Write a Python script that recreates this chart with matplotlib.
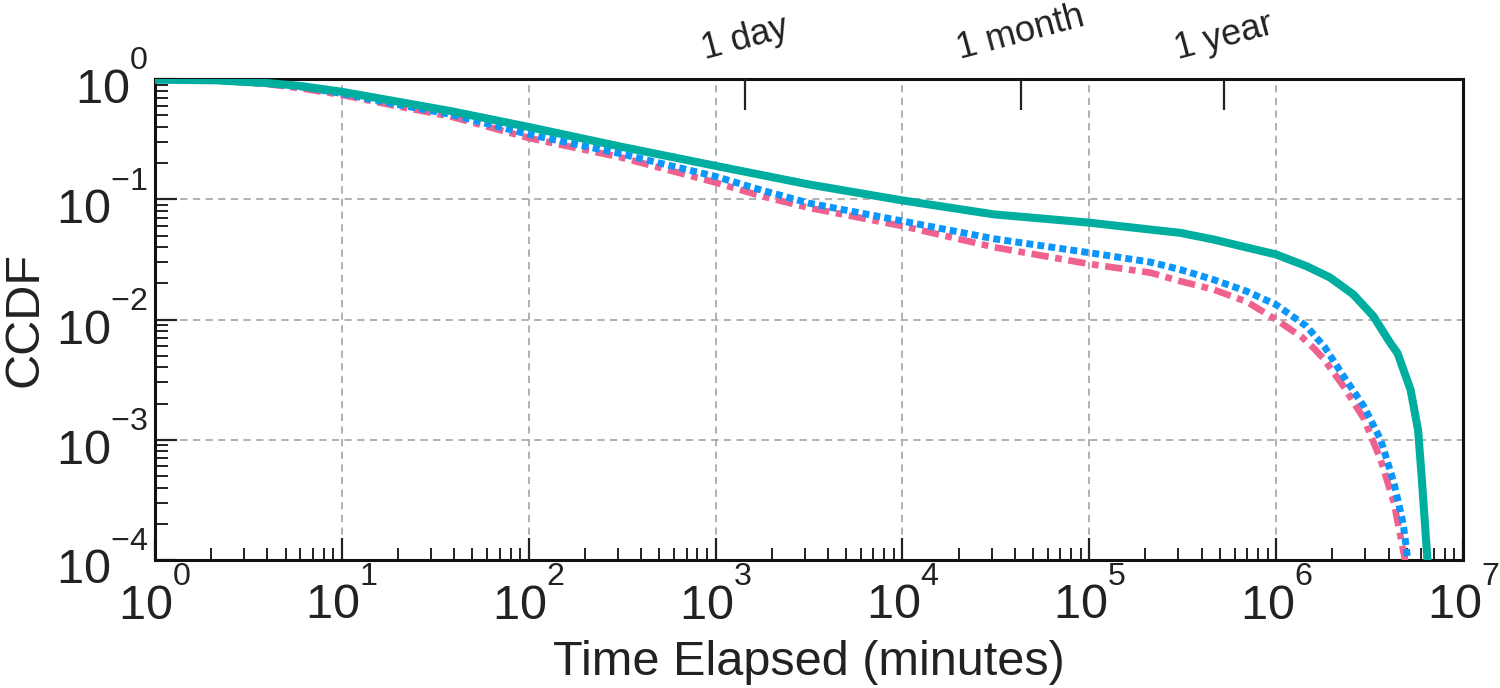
import matplotlib
matplotlib.use("Agg")
import matplotlib.pyplot as plt
from matplotlib.ticker import LogLocator, NullFormatter, FixedLocator

try:
    import matplotlib._mathtext as _mt
    _mt.FontConstantsBase.sup1 = 1.3
    _mt.SHRINK_FACTOR = 0.66
except Exception:
    pass

plt.rcParams['font.family'] = ['Liberation Sans', 'DejaVu Sans']
plt.rcParams['mathtext.fontset'] = 'custom'
plt.rcParams['mathtext.rm'] = 'Liberation Sans'
plt.rcParams['mathtext.it'] = 'Liberation Sans:italic'
plt.rcParams['mathtext.bf'] = 'Liberation Sans:bold'

# ---- data ----
teal_x = [1, 2.14, 3.98, 5.97, 10, 20.4, 38, 100, 309, 1000, 3162, 10000, 30900,
          100000, 213800, 305500, 461300, 695000, 1000000, 1455000, 1941000,
          2588000, 3311000, 4064000, 4467000, 5248000, 5754000, 6026000, 6457000,
          6600000]
teal_y = [0.99, 0.977, 0.927, 0.879, 0.785, 0.645, 0.543, 0.40, 0.275, 0.19, 0.133,
          0.098, 0.075, 0.064, 0.056, 0.0527, 0.0464, 0.0398, 0.0348, 0.0278, 0.0224,
          0.0162, 0.0107, 0.00646, 0.00525, 0.0026, 0.0012, 0.00047, 0.0001, 0.00007]

blue_x = [1, 2.14, 3.98, 5.97, 10, 20.4, 38, 100, 309, 1000, 1738, 3162, 10000,
          30900, 100000, 213800, 305500, 461300, 695000, 1000000, 1455000, 1820000,
          2290000, 2950000, 3630000, 4270000, 4790000, 5070000, 5150000]
blue_y = [0.99, 0.975, 0.92, 0.865, 0.76, 0.61, 0.51, 0.347, 0.24, 0.155, 0.12,
          0.093, 0.066, 0.047, 0.036, 0.030, 0.0261, 0.0215, 0.0172, 0.0133, 0.0088,
          0.0059, 0.0034, 0.0019, 0.001, 0.00044, 0.0002, 0.0001, 0.00007]

pink_x = [1, 2.14, 3.98, 5.97, 10, 20.4, 38, 100, 309, 1000, 1738, 3162, 10000,
          30900, 100000, 213800, 305500, 461300, 695000, 1000000, 1380000, 1570000,
          1780000, 2290000, 2950000, 3630000, 4270000, 4900000, 5000000]
pink_y = [0.99, 0.975, 0.912, 0.84, 0.74, 0.59, 0.49, 0.324, 0.224, 0.138, 0.107,
          0.085, 0.060, 0.040, 0.029, 0.0245, 0.0209, 0.0178, 0.0141, 0.010, 0.0071,
          0.0059, 0.0048, 0.0028, 0.0015, 0.00068, 0.0003, 0.0001, 0.00007]

top_ticks = [1440, 43200, 525600]
top_labels = ["1 day", "1 month", "1 year"]

TEAL = "#00ae9f"
BLUE = "#0a96fa"
PINK = "#f0628e"
TXT = "#222222"

fig = plt.figure(figsize=(15, 6.88), dpi=100)
ax = fig.add_axes([0.1033, 0.186, 0.872, 0.699])

ax.plot(pink_x, pink_y, color=PINK, lw=4.8, linestyle=(0, (2.6, 1.0, 1.0, 1.0)),
        dash_capstyle='butt', zorder=3)
ax.plot(blue_x, blue_y, color=BLUE, lw=5.0, linestyle=(0, (1.0, 0.6)),
        dash_capstyle='butt', zorder=4)
ax.plot(teal_x, teal_y, color=TEAL, lw=5.8, solid_capstyle='butt', zorder=5)

ax.set_xscale('log')
ax.set_yscale('log')
ax.set_xlim(1, 1e7)
ax.set_ylim(1e-4, 1)

ax.xaxis.set_major_locator(LogLocator(base=10, numticks=20))
ax.xaxis.set_minor_locator(LogLocator(base=10, subs=range(2, 10), numticks=100))
ax.yaxis.set_major_locator(LogLocator(base=10, numticks=20))
ax.yaxis.set_minor_locator(LogLocator(base=10, subs=range(2, 10), numticks=100))
ax.xaxis.set_minor_formatter(NullFormatter())
ax.yaxis.set_minor_formatter(NullFormatter())

ax.grid(True, which='major', linestyle=(0, (4, 3)), color='#aaaaaa', linewidth=1.3)

ax.tick_params(which='both', direction='in', top=False, right=False,
               colors=TXT, labelcolor=TXT)
ax.tick_params(which='major', length=16, width=1.6, labelsize=35)
ax.tick_params(axis='x', which='major', pad=7)
ax.tick_params(axis='y', which='major', pad=5)
ax.tick_params(which='minor', length=9, width=1.4)

for s in ax.spines.values():
    s.set_linewidth(2.2)
    s.set_color('#111111')

ax.set_xlabel("Time Elapsed (minutes)", fontsize=35, color=TXT, labelpad=7)
ax.set_ylabel("CCDF", fontsize=35, color=TXT, labelpad=6)

ax2 = ax.twiny()
ax2.set_xscale('log')
ax2.set_xlim(ax.get_xlim())
ax2.xaxis.set_major_locator(FixedLocator(top_ticks))
ax2.xaxis.set_minor_locator(FixedLocator([]))
ax2.set_xticklabels(top_labels)
ax2.tick_params(axis='x', which='major', direction='in', length=22, width=1.6,
                labelsize=26, pad=9, colors=TXT, labelcolor=TXT, labelrotation=15)
for s in ax2.spines.values():
    s.set_visible(False)

fig.savefig("out.png", dpi=100)
